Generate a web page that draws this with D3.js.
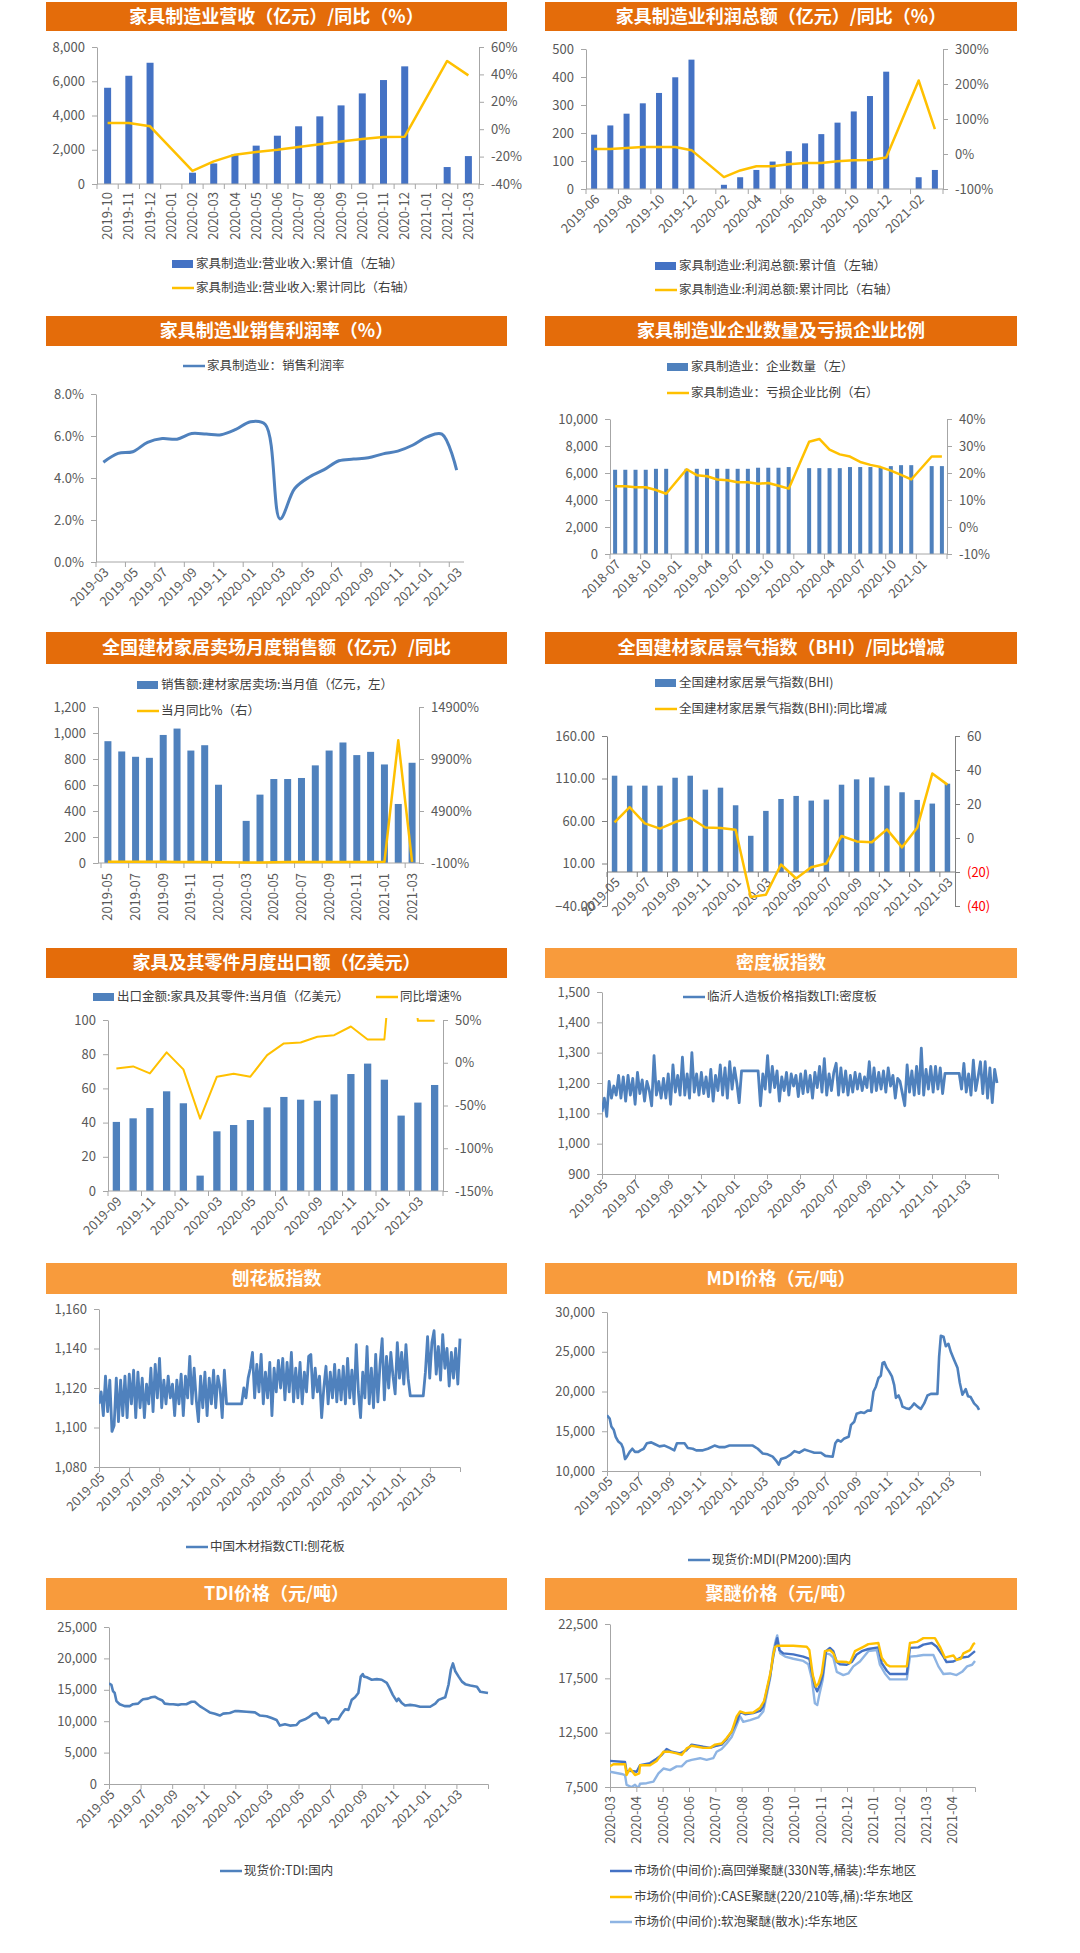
<!DOCTYPE html>
<html>
<head>
<meta charset="utf-8">
<script src="https://cdn.jsdelivr.net/npm/d3@7"></script>
<style>
  body { margin: 0; background: #fff; }
  svg text { font-family: 'Noto Sans CJK SC', 'Noto Sans', sans-serif; }
</style>
</head>
<body>
<svg id="chart" width="1080" height="1953"></svg>
<script>
//colours / fonts
var FONT = "'Noto Sans CJK SC', 'Noto Sans', sans-serif";
var DARK = "#E46C0A", LIGHT = "#F89B3C";
var BLUE = "#4472C4", STEEL = "#4F81BD", GOLD = "#FFC000", PALE = "#8EB4E3";
var AXIS = "#A6A6A6", TXT = "#595959";

// ---- 1 家具制造业营收 ----
var revMonths = ["2019-10","2019-11","2019-12","2020-01","2020-02","2020-03","2020-04","2020-05","2020-06","2020-07","2020-08","2020-09","2020-10","2020-11","2020-12","2021-01","2021-02","2021-03"];
var revTotal = [5620,6320,7080,null,660,1200,1730,2240,2820,3370,3950,4590,5290,6070,6870,null,990,1630];
var revYoy = [4.5,4.5,2.1,null,-30.5,-23.5,-18.6,-16.6,-15.0,-13.0,-11.0,-9.0,-7.2,-5.7,-5.5,null,49.8,39.3];

// ---- 2 利润总额 ----
var profitMonths = ["2019-06","2019-07","2019-08","2019-09","2019-10","2019-11","2019-12","2020-01","2020-02","2020-03","2020-04","2020-05","2020-06","2020-07","2020-08","2020-09","2020-10","2020-11","2020-12","2021-01","2021-02","2021-03"];
var profitTotal = [194,227,269,306,343,399,462,null,15,42,68,98,135,163,196,237,277,332,419,null,42,68];
var profitYoy = [14,14,17,20,20,20,11,null,-66,-47,-35,-35,-29,-26,-26,-21,-18,-17,-10,null,210,71];

// ---- 3 销售利润率 ----
var marginMonths = ["2019-03","2019-04","2019-05","2019-06","2019-07","2019-08","2019-09","2019-10","2019-11","2019-12","2020-01","2020-02","2020-03","2020-04","2020-05","2020-06","2020-07","2020-08","2020-09","2020-10","2020-11","2020-12","2021-01","2021-02","2021-03"];
var marginRate = [4.75,5.17,5.25,5.7,5.88,5.85,6.12,6.09,6.06,6.31,6.68,6.55,2.05,3.5,4.05,4.4,4.82,4.9,4.96,5.15,5.28,5.56,5.96,6.09,4.37];

// ---- 4 企业数量 / 亏损比例 ----
var firmMonths = ["2018-07","2018-08","2018-09","2018-10","2018-11","2018-12","2019-01","2019-02","2019-03","2019-04","2019-05","2019-06","2019-07","2019-08","2019-09","2019-10","2019-11","2019-12","2020-01","2020-02","2020-03","2020-04","2020-05","2020-06","2020-07","2020-08","2020-09","2020-10","2020-11","2020-12","2021-01","2021-02","2021-03"];
var firmCount = [6240,6240,6240,6240,6310,6310,null,6310,6310,6310,6310,6310,6310,6310,6390,6390,6390,6440,null,6360,6360,6360,6360,6440,6440,6440,6440,6510,6580,6580,null,6510,6510];
var lossRatio = [15.1,15.1,14.7,14.7,13.7,12.3,null,21.4,19.2,18.8,17.6,17.3,16.6,16.6,16.0,16.3,15.3,14.2,null,31.6,32.6,28.7,26.9,26.1,24.1,23.0,22.2,20.9,19.3,17.6,null,26.1,26.1];

// ---- 5 卖场销售额 ----
var mallMonths = ["2019-05","2019-06","2019-07","2019-08","2019-09","2019-10","2019-11","2019-12","2020-01","2020-02","2020-03","2020-04","2020-05","2020-06","2020-07","2020-08","2020-09","2020-10","2020-11","2020-12","2021-01","2021-02","2021-03"];
var mallSales = [937,858,817,809,985,1034,865,906,602,null,324,526,646,646,654,751,865,927,830,855,758,454,771];
var mallYoy = [30,20,15,10,12,8,5,-5,-30,null,-60,-40,-20,-15,-10,-5,0,0,5,-5,10,11700,5];

// ---- 6 BHI ----
var bhiMonths = mallMonths;
var bhiIndex = [113.3,101.6,101.6,101.6,110.9,113.3,96.9,99.2,78.5,42.6,71.9,85.9,89.5,84.0,85.2,102.7,109.0,111.3,101.6,93.8,84.8,80.5,103.9];
var bhiYoy = [9.2,18.1,8.6,5.5,9.4,11.9,6.2,5.9,4.9,-34.7,-33.4,-15.6,-23.8,-17.2,-15.0,1.2,-2.0,-2.5,5.1,-5.5,6.0,37.9,31.4];

// ---- 7 家具出口 ----
var exportMonths = ["2019-09","2019-10","2019-11","2019-12","2020-01","2020-02","2020-03","2020-04","2020-05","2020-06","2020-07","2020-08","2020-09","2020-10","2020-11","2020-12","2021-01","2021-02","2021-03","2021-04"];
var exportValue = [40.4,42.5,48.5,58.3,51.3,9.0,34.9,38.6,41.5,48.9,55.0,53.4,52.8,56.5,68.4,74.5,65.1,44.1,51.7,62.0];
var exportYoy = [-6.6,-4.3,-12.5,12.1,-7.8,-65.4,-16.3,-12.8,-16.3,9.0,22.6,23.7,30.4,32.3,42.4,27.2,27.2,250,49,49];

// tick labels for the daily price charts (every 2 months from 2019-05)
var dailyTicks = ["2019-05","2019-07","2019-09","2019-11","2020-01","2020-03","2020-05","2020-07","2020-09","2020-11","2021-01","2021-03"];

// ---- 8 密度板 (7 readings per month, 2019-05 .. 2021-04) ----
var mdfIndex = [
 1105,1150,1090,1205,1150,1190,1160, 1225,1150,1220,1140,1225,1160,1215,
 1130,1235,1165,1210,1140,1205,1175, 1125,1290,1160,1205,1150,1215,1150,
 1230,1130,1260,1170,1225,1160,1285, 1160,1230,1150,1300,1170,1230,1160,
 1235,1165,1220,1155,1245,1140,1225, 1175,1260,1160,1250,1150,1270,1180,
 1250,1200,1135,1240,1240,1240,1240, 1240,1240,1240,1240,1125,1230,1180,
 1290,1170,1255,1185,1240,1140,1220, 1175,1235,1160,1230,1190,1225,1155,
 1230,1165,1240,1170,1225,1150,1235, 1185,1255,1170,1280,1160,1230,1175,
 1235,1265,1160,1250,1170,1240,1160, 1225,1170,1235,1180,1230,1175,1220,
 1185,1270,1170,1250,1175,1235,1180, 1240,1170,1250,1190,1225,1150,1215,
 1205,1165,1125,1260,1170,1240,1160, 1255,1165,1315,1160,1245,1180,1255,
 1170,1255,1180,1250,1165,1232,1232, 1232,1232,1232,1232,1232,1180,1265,
 1170,1230,1160,1275,1175,1220,1270, 1165,1270,1150,1250,1135,1245,1200];

// ---- 9 刨花板 ----
var chipIndex = [
 1112,1118,1106,1126,1108,1124,1098, 1101,1125,1103,1124,1106,1126,1105,
 1127,1112,1129,1105,1128,1110,1125, 1105,1122,1112,1130,1108,1132,1115,
 1135,1110,1124,1112,1126,1115,1122, 1106,1124,1112,1127,1106,1126,1115,
 1136,1112,1130,1114,1103,1126,1110, 1128,1106,1125,1112,1129,1110,1126,
 1120,1105,1129,1112,1112,1112,1112, 1112,1112,1112,1112,1120,1115,1125,
 1130,1138,1115,1132,1118,1137,1112, 1128,1115,1133,1106,1130,1118,1134,
 1120,1135,1114,1133,1118,1138,1113, 1130,1115,1133,1112,1128,1118,1136,
 1137,1115,1130,1118,1126,1105,1120, 1131,1112,1128,1115,1132,1113,1129,
 1114,1131,1112,1135,1115,1129,1112, 1142,1118,1105,1128,1115,1141,1112,
 1130,1110,1137,1113,1132,1145,1114, 1136,1120,1138,1126,1117,1143,1125,
 1138,1122,1142,1125,1116,1116,1116, 1116,1116,1116,1116,1128,1146,1125,
 1143,1149,1127,1141,1124,1147,1130, 1140,1121,1138,1125,1140,1122,1145];

// ---- 10 MDI [months since 2019-05, 元/吨] ----
var mdiPrice = [[0,17000],[0.17,16600],[0.28,15600],[0.43,15200],[0.56,14300],[0.73,13700],[0.92,13400],[1.03,12900],[1.16,11500],[1.28,11800],[1.46,12400],[1.63,12800],[1.8,12400],[2.01,12400],[2.16,12600],[2.36,12800],[2.57,13500],[2.85,13600],[3.06,13400],[3.38,13100],[3.7,13200],[4.03,12900],[4.33,12600],[4.5,13500],[4.99,13500],[5.2,12900],[5.52,12800],[5.74,12600],[6.17,12600],[6.49,12800],[6.92,13200],[7.24,13000],[7.56,13000],[7.88,13200],[9.38,13200],[9.7,12800],[10.02,12200],[10.34,12100],[10.66,11800],[10.92,11200],[11.05,10800],[11.2,11500],[11.52,11700],[11.84,12100],[12.06,12500],[12.38,12300],[12.7,12700],[13.02,12500],[13.34,12300],[13.77,12300],[14.05,11900],[14.52,11800],[14.69,13500],[14.84,13900],[15.05,13700],[15.27,14100],[15.55,14300],[15.7,15800],[15.91,16200],[16.06,17200],[16.34,17400],[16.55,17300],[16.77,17600],[16.98,17600],[17.15,20000],[17.3,20600],[17.47,21700],[17.62,22000],[17.73,23600],[17.84,23700],[17.99,23000],[18.16,22500],[18.33,21900],[18.48,20800],[18.59,19200],[18.76,19500],[18.91,18800],[19.01,18100],[19.23,17900],[19.44,17800],[19.61,18100],[19.76,18500],[19.98,18100],[20.19,17800],[20.41,18500],[20.62,19500],[20.84,19700],[21.26,19700],[21.37,24400],[21.48,27000],[21.65,26900],[21.8,25700],[21.97,26000],[22.12,25000],[22.33,24000],[22.55,23000],[22.7,21100],[22.87,19600],[23.08,20300],[23.23,19400],[23.4,19300],[23.62,18500],[23.83,18100],[23.94,17700]];

// ---- 11 TDI ----
var tdiPrice = [[0,16000],[0.15,15800],[0.25,14800],[0.36,14500],[0.47,13200],[0.68,12700],[0.99,12400],[1.31,12400],[1.52,12700],[1.84,12800],[2.01,13200],[2.16,13500],[2.47,13600],[2.68,13800],[2.9,13900],[3.11,13600],[3.38,13300],[3.53,12800],[3.85,12700],[4.06,12700],[4.38,12600],[4.59,12700],[4.9,12700],[5.22,13100],[5.43,13100],[5.75,12400],[6.07,11900],[6.38,11400],[6.7,11200],[7.02,10900],[7.23,11200],[7.65,11300],[7.97,11600],[8.18,11600],[8.71,11500],[9.24,11400],[9.56,10900],[9.98,10800],[10.3,10500],[10.61,10200],[10.82,9300],[11.14,9500],[11.46,9300],[11.88,9400],[12.09,10000],[12.41,10300],[12.62,10600],[12.94,11200],[13.15,11300],[13.36,10600],[13.68,10500],[13.89,9700],[14.1,10300],[14.52,10300],[14.74,11200],[14.95,11900],[15.16,11800],[15.37,13400],[15.58,13800],[15.79,14500],[15.94,17100],[16.07,17500],[16.15,17100],[16.32,17000],[16.64,16600],[16.96,16700],[17.27,16600],[17.59,16100],[17.76,15300],[17.97,14200],[18.22,13200],[18.33,13600],[18.54,12900],[18.75,12500],[19.07,12600],[19.39,12500],[19.7,12300],[20.34,12300],[20.66,12800],[20.87,13400],[21.29,13800],[21.5,15800],[21.65,18200],[21.78,19200],[21.92,18000],[22.14,17100],[22.35,16300],[22.56,15900],[22.88,15700],[23.3,15500],[23.51,14700],[24,14500]];

// ---- 12 聚醚 [months since 2020-03, 元/吨] ----
var polyTicks = ["2020-03","2020-04","2020-05","2020-06","2020-07","2020-08","2020-09","2020-10","2020-11","2020-12","2021-01","2021-02","2021-03","2021-04"];
var polyHighRes = [[0,9900],[0.57,9800],[0.63,8900],[0.76,9000],[1.01,8900],[1.14,9500],[1.52,9700],[1.77,10100],[1.96,10450],[2.15,11000],[2.34,10750],[2.66,10600],[2.91,10900],[3.1,11400],[3.54,11200],[3.8,11100],[4.05,11300],[4.24,11400],[4.43,11900],[4.62,12600],[4.81,13500],[4.94,14400],[5.13,14200],[5.44,14300],[5.7,14500],[5.82,14900],[5.95,16300],[6.08,17700],[6.2,19500],[6.3,20750],[6.35,21200],[6.43,20100],[6.58,19800],[6.96,19700],[7.34,19500],[7.57,19300],[7.66,18100],[7.78,16750],[7.87,16300],[7.97,16900],[8.08,17800],[8.2,20000],[8.35,20300],[8.48,20000],[8.61,19000],[8.73,18800],[8.99,18750],[9.18,19000],[9.37,19700],[9.56,20000],[9.81,20200],[10.19,20350],[10.32,18900],[10.51,18200],[10.63,17900],[11.27,17900],[11.39,20300],[11.71,20350],[11.9,20600],[12.22,20750],[12.41,20400],[12.66,19500],[12.78,19000],[13.04,19050],[13.32,19400],[13.61,19500],[13.86,20000]];
var polyCase = [[0,9400],[0.13,9600],[0.57,9600],[0.63,8600],[0.76,9200],[0.95,8600],[1.11,8750],[1.14,9500],[1.52,9500],[1.77,9900],[2.03,10750],[2.22,10750],[2.53,10600],[2.72,10450],[2.91,11050],[3.1,11300],[3.54,11100],[3.8,11100],[3.99,11400],[4.24,11500],[4.43,12000],[4.62,12600],[4.81,14000],[4.94,14450],[5.13,14300],[5.44,14350],[5.7,14800],[5.85,15400],[5.97,16700],[6.1,18100],[6.2,19700],[6.27,20400],[6.35,20500],[6.96,20500],[7.47,20400],[7.57,20100],[7.7,17800],[7.82,16750],[7.91,17000],[8.04,17950],[8.16,20000],[8.35,20100],[8.48,19800],[8.61,19050],[8.99,19000],[9.11,18900],[9.3,20000],[9.62,20400],[9.81,20650],[10.19,20750],[10.32,19400],[10.51,18750],[10.63,18600],[11.27,18600],[11.39,20750],[11.65,20850],[11.9,21200],[12.34,21200],[12.53,20400],[12.72,19400],[12.85,19500],[13.04,19600],[13.16,19200],[13.32,19300],[13.42,19800],[13.67,20100],[13.8,20650],[13.86,20750]];
var polySoft = [[0,8900],[0.44,8700],[0.57,8600],[0.63,7700],[0.82,7500],[0.95,7700],[1.08,7400],[1.14,7800],[1.39,7850],[1.65,8000],[1.84,8750],[2.03,9200],[2.28,9050],[2.53,9400],[2.72,9400],[2.91,9850],[3.1,10000],[3.42,10150],[3.67,10000],[3.92,10150],[4.05,10750],[4.24,11000],[4.43,11500],[4.62,12100],[4.81,13200],[4.94,14000],[5.06,13500],[5.32,13650],[5.63,13900],[5.82,14450],[5.95,15950],[6.08,17500],[6.2,19950],[6.3,21050],[6.35,21450],[6.46,19800],[6.65,19500],[6.96,19300],[7.34,19100],[7.53,18800],[7.66,17500],[7.78,15200],[7.87,15050],[7.95,16000],[8.08,17400],[8.2,19800],[8.35,19700],[8.48,19400],[8.61,18100],[8.86,17800],[9.05,17950],[9.24,18600],[9.49,19050],[9.81,20000],[10.13,20100],[10.25,18750],[10.44,17950],[10.63,17400],[11.27,17400],[11.39,19500],[11.65,19550],[11.9,19650],[12.28,19650],[12.47,18600],[12.66,17900],[12.91,17950],[13.16,17800],[13.37,18100],[13.56,18600],[13.75,18750],[13.86,19100]];


var svg = d3.select("#chart");
svg.append("rect").attr("width", 1080).attr("height", 1953).attr("fill", "#fff");

function titleBar(x, y, w, h, text, color) {
  svg.append("rect").attr("x", x).attr("y", y).attr("width", w).attr("height", h).attr("fill", color);
  svg.append("text").attr("x", x + w / 2).attr("y", y + h / 2).attr("dy", "0.36em")
    .attr("text-anchor", "middle").attr("fill", "#fff")
    .attr("font-size", 18).attr("font-weight", "bold").text(text);
}

function legendItem(x, y, type, color, label) {
  if (type === "bar") {
    svg.append("rect").attr("x", x).attr("y", y - 4).attr("width", 21).attr("height", 8).attr("fill", color);
  } else {
    svg.append("line").attr("x1", x).attr("x2", x + 22).attr("y1", y).attr("y2", y)
      .attr("stroke", color).attr("stroke-width", 2.5);
  }
  svg.append("text").attr("x", x + 24).attr("y", y).attr("dy", "0.35em")
    .attr("font-size", 12.5).attr("fill", "#404040").text(label);
}

function styleAxis(g, color) {
  g.attr("font-size", 13).attr("font-family", FONT);
  g.selectAll(".domain").attr("stroke", color || AXIS);
  g.selectAll(".tick line").attr("stroke", color || AXIS);
  g.selectAll(".tick text").attr("fill", TXT);
}

var clipCount = 0;
function clip(x, y, w, h) {
  var id = "clip" + (clipCount++);
  svg.append("clipPath").attr("id", id).append("rect")
    .attr("x", x).attr("y", y).attr("width", w).attr("height", h);
  return "url(#" + id + ")";
}

// bar + line chart on monthly categories
function comboChart(o) {
  var x = d3.scaleBand().domain(o.cats).range([o.x0, o.x1]);
  var yL = d3.scaleLinear().domain(o.left.domain).range([o.yBot, o.yTop]);
  var leftX = o.leftX || o.x0;
  var axColor = o.axisColor || AXIS;

  var gl = svg.append("g").attr("transform", "translate(" + leftX + ",0)")
    .call(d3.axisLeft(yL).tickValues(o.left.ticks).tickFormat(o.left.fmt)
      .tickSize(5).tickSizeOuter(0).tickPadding(7));
  styleAxis(gl, axColor);

  var yR = null;
  if (o.right) {
    yR = d3.scaleLinear().domain(o.right.domain).range([o.yBot, o.yTop]);
    var gr = svg.append("g").attr("transform", "translate(" + o.x1 + ",0)")
      .call(d3.axisRight(yR).tickValues(o.right.ticks).tickFormat(o.right.fmt)
        .tickSize(5).tickSizeOuter(0).tickPadding(7));
    styleAxis(gr, axColor);
    if (o.right.negColor) gr.selectAll(".tick text").filter(function(d) { return d < 0; }).attr("fill", o.right.negColor);
  }

  var axisY = o.axisAtZero ? yL(0) : o.yBot;

  if (o.bars) {
    svg.append("g").selectAll("rect")
      .data(o.cats.map(function(c, i) { return {c: c, v: o.bars[i]}; }).filter(function(d) { return d.v != null; }))
      .join("rect")
      .attr("x", function(d) { return x(d.c) + x.bandwidth() / 2 - o.barW / 2; })
      .attr("width", o.barW)
      .attr("y", function(d) { return yL(d.v); })
      .attr("height", function(d) { return axisY - yL(d.v); })
      .attr("fill", o.barColor);
  }

  // category axis: baseline, tick marks at band edges, labels at band centres
  var gx = svg.append("g");
  gx.append("line").attr("x1", leftX).attr("x2", o.x1).attr("y1", axisY).attr("y2", axisY).attr("stroke", axColor);
  for (var i = 0; i <= o.cats.length; i += o.tickEvery) {
    var tx = i < o.cats.length ? x(o.cats[i]) : o.x1;
    gx.append("line").attr("x1", tx).attr("x2", tx).attr("y1", axisY).attr("y2", axisY + 5).attr("stroke", axColor);
  }
  var labelCats = o.cats.filter(function(c, i) { return i % o.labelEvery === 0; });
  var ax = svg.append("g").attr("transform", "translate(0," + axisY + ")")
    .call(d3.axisBottom(x).tickValues(labelCats).tickSize(0).tickPadding(0));
  ax.select(".domain").remove();
  styleAxis(ax, axColor);
  ax.selectAll(".tick text").attr("y", 0).attr("dy", "0.35em").attr("text-anchor", "end")
    .attr("transform", o.angle === -90 ? "translate(0," + (o.labelGap || 8) + ") rotate(-90)" : "translate(3,8) rotate(-45)");

  if (o.line) {
    var ys = yR || yL;
    var pts = o.cats.map(function(c, i) { return {c: c, v: o.line[i]}; }).filter(function(d) { return d.v != null; });
    var path = svg.append("path").datum(pts)
      .attr("fill", "none").attr("stroke", o.lineColor).attr("stroke-width", o.lineW || 2.5)
      .attr("stroke-linejoin", "round")
      .attr("d", d3.line()
        .x(function(d) { return x(d.c) + x.bandwidth() / 2; })
        .y(function(d) { return ys(d.v); })
        .curve(o.curve || d3.curveLinear));
    if (o.clipLine) path.attr("clip-path", clip(o.x0, o.yTop - 2, o.x1 - o.x0, o.yBot - o.yTop + 2));
  }
}

// daily price chart on a month-offset axis
function timeChart(o) {
  var x = d3.scaleLinear().domain(o.xDomain).range([o.x0, o.x1]);
  var y = d3.scaleLinear().domain(o.yDomain).range([o.yBot, o.yTop]);

  var gl = svg.append("g").attr("transform", "translate(" + o.x0 + ",0)")
    .call(d3.axisLeft(y).tickValues(o.yTicks).tickFormat(d3.format(","))
      .tickSize(5).tickSizeOuter(0).tickPadding(7));
  styleAxis(gl);

  var gx = svg.append("g").attr("transform", "translate(0," + o.yBot + ")")
    .call(d3.axisBottom(x).tickValues(o.xTicks)
      .tickFormat(function(d) { return o.xLabels[o.xTicks.indexOf(d)]; })
      .tickSize(5).tickSizeOuter(5));
  styleAxis(gx);
  gx.selectAll(".tick text").attr("y", 0).attr("dy", "0.35em").attr("text-anchor", "end")
    .attr("transform", o.angle === -90 ? "translate(0,9) rotate(-90)" : "translate(3,8) rotate(-45)");

  var cp = clip(o.x0, o.yTop - 4, o.x1 - o.x0 + 2, o.yBot - o.yTop + 4);
  o.series.forEach(function(s) {
    svg.append("path").datum(s.data).attr("clip-path", cp)
      .attr("fill", "none").attr("stroke", s.color).attr("stroke-width", s.width)
      .attr("stroke-linejoin", "round")
      .attr("d", d3.line().x(function(d) { return x(d[0]); }).y(function(d) { return y(d[1]); }));
  });
}

function evenlySpaced(vals, months) {
  return vals.map(function(v, i) { return [i * months / (vals.length - 1), v]; });
}

var pct = function(d) { return d + "%"; };

// ===== row 1 =====
titleBar(46, 2, 461, 29, "家具制造业营收（亿元）/同比（%）", DARK);
comboChart({
  cats: revMonths, x0: 97, x1: 479, yTop: 47, yBot: 184,
  left: {domain: [0, 8000], ticks: d3.range(0, 8001, 2000), fmt: d3.format(",")},
  right: {domain: [-40, 60], ticks: d3.range(-40, 61, 20), fmt: pct},
  bars: revTotal, barW: 7, barColor: BLUE,
  line: revYoy, lineColor: GOLD,
  tickEvery: 1, labelEvery: 1, angle: -90, labelGap: 8
});
legendItem(172, 264, "bar", BLUE, "家具制造业:营业收入:累计值（左轴）");
legendItem(172, 288, "line", GOLD, "家具制造业:营业收入:累计同比（右轴）");

titleBar(545, 2, 472, 29, "家具制造业利润总额（亿元）/同比（%）", DARK);
comboChart({
  cats: profitMonths, x0: 586, x1: 943, yTop: 49, yBot: 189,
  left: {domain: [0, 500], ticks: d3.range(0, 501, 100), fmt: d3.format(",")},
  right: {domain: [-100, 300], ticks: d3.range(-100, 301, 100), fmt: pct},
  bars: profitTotal, barW: 6, barColor: BLUE,
  line: profitYoy, lineColor: GOLD,
  tickEvery: 2, labelEvery: 2, angle: -45
});
legendItem(655, 266, "bar", BLUE, "家具制造业:利润总额:累计值（左轴）");
legendItem(655, 290, "line", GOLD, "家具制造业:利润总额:累计同比（右轴）");

// ===== row 2 =====
titleBar(46, 316, 461, 30, "家具制造业销售利润率（%）", DARK);
comboChart({
  cats: marginMonths, x0: 96, x1: 464, yTop: 394, yBot: 562,
  left: {domain: [0, 8], ticks: d3.range(0, 9, 2), fmt: function(d) { return d.toFixed(1) + "%"; }},
  line: marginRate, lineColor: STEEL, lineW: 3, curve: d3.curveCatmullRom.alpha(0.5),
  tickEvery: 2, labelEvery: 2, angle: -45
});
legendItem(183, 366, "line", STEEL, "家具制造业：销售利润率");

titleBar(545, 316, 472, 30, "家具制造业企业数量及亏损企业比例", DARK);
comboChart({
  cats: firmMonths, x0: 610, x1: 947, yTop: 419, yBot: 554,
  left: {domain: [0, 10000], ticks: d3.range(0, 10001, 2000), fmt: d3.format(",")},
  right: {domain: [-10, 40], ticks: d3.range(-10, 41, 10), fmt: pct},
  bars: firmCount, barW: 4, barColor: STEEL,
  line: lossRatio, lineColor: GOLD,
  tickEvery: 3, labelEvery: 3, angle: -45
});
legendItem(667, 367, "bar", STEEL, "家具制造业：企业数量（左）");
legendItem(667, 393, "line", GOLD, "家具制造业：亏损企业比例（右）");

// ===== row 3 =====
titleBar(46, 632, 461, 32, "全国建材家居卖场月度销售额（亿元）/同比", DARK);
comboChart({
  cats: mallMonths, x0: 101, leftX: 98, x1: 419, yTop: 707, yBot: 863,
  left: {domain: [0, 1200], ticks: d3.range(0, 1201, 200), fmt: d3.format(",")},
  right: {domain: [-100, 14900], ticks: d3.range(-100, 14901, 5000), fmt: pct},
  bars: mallSales, barW: 7, barColor: STEEL,
  line: mallYoy, lineColor: GOLD,
  tickEvery: 2, labelEvery: 2, angle: -90, labelGap: 10
});
legendItem(137, 685, "bar", STEEL, "销售额:建材家居卖场:当月值（亿元，左）");
legendItem(137, 711, "line", GOLD, "当月同比%（右）");

titleBar(545, 632, 472, 32, "全国建材家居景气指数（BHI）/同比增减", DARK);
comboChart({
  cats: bhiMonths, x0: 607, x1: 955, yTop: 736, yBot: 906,
  left: {domain: [-40, 160], ticks: d3.range(-40, 161, 50), fmt: d3.format(".2f")},
  right: {domain: [-40, 60], ticks: d3.range(-40, 61, 20),
          fmt: function(d) { return d < 0 ? "(" + (-d) + ")" : d; }, negColor: "#FF0000"},
  bars: bhiIndex, barW: 5.5, barColor: STEEL,
  line: bhiYoy, lineColor: GOLD, axisAtZero: true, axisColor: "#808080",
  tickEvery: 2, labelEvery: 2, angle: -45
});
legendItem(655, 683, "bar", STEEL, "全国建材家居景气指数(BHI)");
legendItem(655, 709, "line", GOLD, "全国建材家居景气指数(BHI):同比增减");

// ===== row 4 =====
titleBar(46, 948, 461, 30, "家具及其零件月度出口额（亿美元）", DARK);
comboChart({
  cats: exportMonths, x0: 108, x1: 443, yTop: 1020, yBot: 1191,
  left: {domain: [0, 100], ticks: d3.range(0, 101, 20), fmt: d3.format(",")},
  right: {domain: [-150, 50], ticks: d3.range(-150, 51, 50), fmt: pct},
  bars: exportValue, barW: 7.3, barColor: STEEL,
  line: exportYoy, lineColor: GOLD, lineW: 2, clipLine: true,
  tickEvery: 2, labelEvery: 2, angle: -45
});
legendItem(93, 997, "bar", STEEL, "出口金额:家具及其零件:当月值（亿美元）");
legendItem(376, 997, "line", GOLD, "同比增速%");

titleBar(545, 948, 472, 30, "密度板指数", LIGHT);
timeChart({
  x0: 602, x1: 998, yTop: 992, yBot: 1174,
  xDomain: [0, 24], xTicks: d3.range(0, 23, 2), xLabels: dailyTicks, angle: -45,
  yDomain: [900, 1500], yTicks: d3.range(900, 1501, 100),
  series: [{data: evenlySpaced(mdfIndex, 23.94), color: STEEL, width: 2.8}]
});
legendItem(683, 997, "line", STEEL, "临沂人造板价格指数LTI:密度板");

// ===== row 5 =====
titleBar(46, 1263, 461, 31, "刨花板指数", LIGHT);
timeChart({
  x0: 99, x1: 460, yTop: 1309, yBot: 1467,
  xDomain: [0, 24], xTicks: d3.range(0, 23, 2), xLabels: dailyTicks, angle: -45,
  yDomain: [1080, 1160], yTicks: d3.range(1080, 1161, 20),
  series: [{data: evenlySpaced(chipIndex, 24), color: STEEL, width: 2.8}]
});
legendItem(186, 1547, "line", STEEL, "中国木材指数CTI:刨花板");

titleBar(545, 1263, 472, 31, "MDI价格（元/吨）", LIGHT);
timeChart({
  x0: 607, x1: 980, yTop: 1312, yBot: 1471,
  xDomain: [0, 24], xTicks: d3.range(0, 23, 2), xLabels: dailyTicks, angle: -45,
  yDomain: [10000, 30000], yTicks: d3.range(10000, 30001, 5000),
  series: [{data: mdiPrice, color: STEEL, width: 2.6}]
});
legendItem(688, 1560, "line", STEEL, "现货价:MDI(PM200):国内");

// ===== row 6 =====
titleBar(46, 1578, 461, 32, "TDI价格（元/吨）", LIGHT);
timeChart({
  x0: 109, x1: 488, yTop: 1627, yBot: 1784,
  xDomain: [0, 24], xTicks: d3.range(0, 23, 2), xLabels: dailyTicks, angle: -45,
  yDomain: [0, 25000], yTicks: d3.range(0, 25001, 5000),
  series: [{data: tdiPrice, color: STEEL, width: 2.6}]
});
legendItem(220, 1871, "line", STEEL, "现货价:TDI:国内");

titleBar(545, 1578, 472, 32, "聚醚价格（元/吨）", LIGHT);
timeChart({
  x0: 610, x1: 975, yTop: 1624, yBot: 1787,
  xDomain: [0, 13.86], xTicks: d3.range(0, 14), xLabels: polyTicks, angle: -90,
  yDomain: [7500, 22500], yTicks: d3.range(7500, 22501, 5000),
  series: [
    {data: polySoft, color: PALE, width: 2.4},
    {data: polyHighRes, color: BLUE, width: 2.4},
    {data: polyCase, color: GOLD, width: 2.4}
  ]
});
legendItem(610, 1871, "line", BLUE, "市场价(中间价):高回弹聚醚(330N等,桶装):华东地区");
legendItem(610, 1897, "line", GOLD, "市场价(中间价):CASE聚醚(220/210等,桶):华东地区");
legendItem(610, 1922, "line", PALE, "市场价(中间价):软泡聚醚(散水):华东地区");
</script>
</body>
</html>
